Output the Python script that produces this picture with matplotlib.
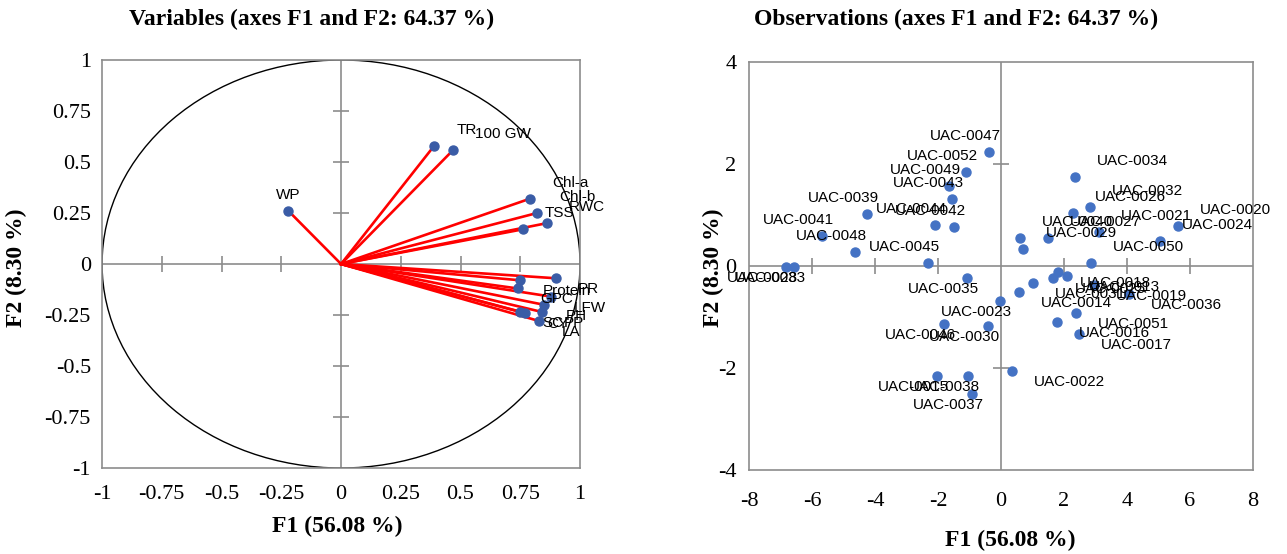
import matplotlib.pyplot as plt
import numpy as np
from matplotlib.patches import Circle

plt.rcParams['font.family'] = 'serif'
plt.rcParams['font.serif'] = ['Liberation Serif', 'DejaVu Serif']
plt.rcParams['axes.unicode_minus'] = False

# variables (correlation circle)
var_names = ['WP', 'TR', '100 GW', 'Chl-a', 'Chl-b', 'RWC', 'TSS',
             'PR', 'Protein', 'GPC', 'LFW', 'PH', 'SC', 'CY', 'PP', 'LA']
var_f1 = [-0.22, 0.39, 0.47, 0.79, 0.82, 0.86, 0.76,
          0.90, 0.75, 0.74, 0.88, 0.85, 0.75, 0.77, 0.84, 0.83]
var_f2 = [0.26, 0.58, 0.56, 0.32, 0.25, 0.20, 0.17,
          -0.07, -0.08, -0.12, -0.16, -0.20, -0.235, -0.24, -0.235, -0.28]

# observations
obs_names = ['UAC-0047', 'UAC-0052', 'UAC-0049', 'UAC-0043', 'UAC-0039', 'UAC-0044',
             'UAC-0042', 'UAC-0041', 'UAC-0048', 'UAC-0045', 'UAC-0028', 'UAC-0033',
             'UAC-0035', 'UAC-0023', 'UAC-0046', 'UAC-0030', 'UAC-0015', 'UAC-0038',
             'UAC-0037', 'UAC-0022', 'UAC-0034', 'UAC-0032', 'UAC-0026', 'UAC-0020',
             'UAC-0024', 'UAC-0021', 'UAC-0040', 'UAC-0027', 'UAC-0029', 'UAC-0050',
             'UAC-0018', 'UAC-0013', 'UAC-0025', 'UAC-0031', 'UAC-0019', 'UAC-0036',
             'UAC-0014', 'UAC-0051', 'UAC-0016', 'UAC-0017']
obs_f1 = [-0.38, -1.11, -1.65, -1.56, -4.25, -2.10,
          -1.49, -5.68, -4.63, -2.32, -6.83, -6.57,
          -1.08, -0.03, -1.81, -0.41, -2.03, -1.05,
          -0.92, 0.35, 2.35, 2.83, 2.29, 5.62,
          5.05, 3.11, 0.60, 1.49, 0.71, 2.86,
          1.81, 2.08, 1.65, 1.02, 2.95, 4.06,
          0.58, 2.38, 1.77, 2.47]
obs_f2 = [2.24, 1.84, 1.57, 1.31, 1.02, 0.80,
          0.77, 0.59, 0.27, 0.06, -0.02, -0.02,
          -0.24, -0.69, -1.14, -1.18, -2.16, -2.16,
          -2.51, -2.06, 1.75, 1.16, 1.04, 0.78,
          0.49, 0.67, 0.55, 0.55, 0.33, 0.06,
          -0.12, -0.19, -0.24, -0.34, -0.37, -0.55,
          -0.51, -0.93, -1.10, -1.33]

left_ticks = [-1, -0.75, -0.5, -0.25, 0, 0.25, 0.5, 0.75, 1]
right_xticks = [-8, -6, -4, -2, 0, 2, 4, 6, 8]
right_yticks = [-4, -2, 0, 2, 4]

title_left = 'Variables (axes F1 and F2: 64.37 %)'
title_right = 'Observations (axes F1 and F2: 64.37 %)'
xlab = 'F1 (56.08 %)'
ylab = 'F2 (8.30 %)'

gray = '#8c8c8c'


def style_axes(ax, xt, yt, xpad, ypad):
    ax.set_xlim(xt[0], xt[-1])
    ax.set_ylim(yt[0], yt[-1])
    ax.set_xticks(xt)
    ax.set_yticks(yt)
    ax.set_xticklabels(['%g' % t for t in xt])
    ax.set_yticklabels(['%g' % t for t in yt])
    ax.tick_params(axis='x', length=0, pad=xpad, labelsize=16)
    ax.tick_params(axis='y', length=0, pad=ypad, labelsize=16)
    for s in ax.spines.values():
        s.set_color(gray)
        s.set_linewidth(1.2)
    ax.axhline(0, color=gray, lw=1.2, zorder=1)
    ax.axvline(0, color=gray, lw=1.2, zorder=1)
    xi = [t for t in xt[1:-1] if t != 0]
    yi = [t for t in yt[1:-1] if t != 0]
    ax.plot(xi, np.zeros(len(xi)), ls='none', marker='|', ms=11,
            mew=1.2, color=gray, zorder=1)
    ax.plot(np.zeros(len(yi)), yi, ls='none', marker='_', ms=11,
            mew=1.2, color=gray, zorder=1)


def label_points(ax, names, xs, ys):
    for n, x, y in zip(names, xs, ys):
        if x < 0:
            dx, ha = 12, 'right'
        else:
            dx, ha = 22, 'left'
        dy = 16 if y > 0 else -11
        ax.annotate(n, (x, y), xytext=(dx, dy), textcoords='offset pixels',
                    ha=ha, va='center', fontsize=11, family='Liberation Sans',
                    annotation_clip=False, zorder=4)


fig = plt.figure(figsize=(12.87, 5.54), dpi=100)

# correlation circle
ax1 = fig.add_axes([0.0793, 0.1552, 0.3714, 0.7365])
style_axes(ax1, left_ticks, left_ticks, 12, 8)
ax1.add_patch(Circle((0, 0), 1, fill=False, color='black', lw=1, zorder=2))
for x, y in zip(var_f1, var_f2):
    ax1.plot([0, x], [0, y], color='#ff0000', lw=1.9, zorder=3)
ax1.plot(var_f1, var_f2, ls='none', marker='o', ms=6.5, color='#3a5ca6', zorder=4)
label_points(ax1, var_names, var_f1, var_f2)

# observations
ax2 = fig.add_axes([0.582, 0.1516, 0.3916, 0.7365])
style_axes(ax2, right_xticks, right_yticks, 16, 9)
ax2.plot(obs_f1, obs_f2, ls='none', marker='o', ms=6.5, color='#4472c4', zorder=3)
label_points(ax2, obs_names, obs_f1, obs_f2)

fig.text(0.2417, 0.964, title_left, ha='center', va='center', fontsize=17, fontweight='bold')
fig.text(0.743, 0.964, title_right, ha='center', va='center', fontsize=17, fontweight='bold')
fig.text(0.262, 0.049, xlab, ha='center', va='center', fontsize=17, fontweight='bold')
fig.text(0.785, 0.025, xlab, ha='center', va='center', fontsize=17, fontweight='bold')
fig.text(0.013, 0.516, ylab, ha='center', va='center', rotation=90, fontsize=17, fontweight='bold')
fig.text(0.554, 0.516, ylab, ha='center', va='center', rotation=90, fontsize=17, fontweight='bold')

fig.savefig('out.png', dpi=100)
